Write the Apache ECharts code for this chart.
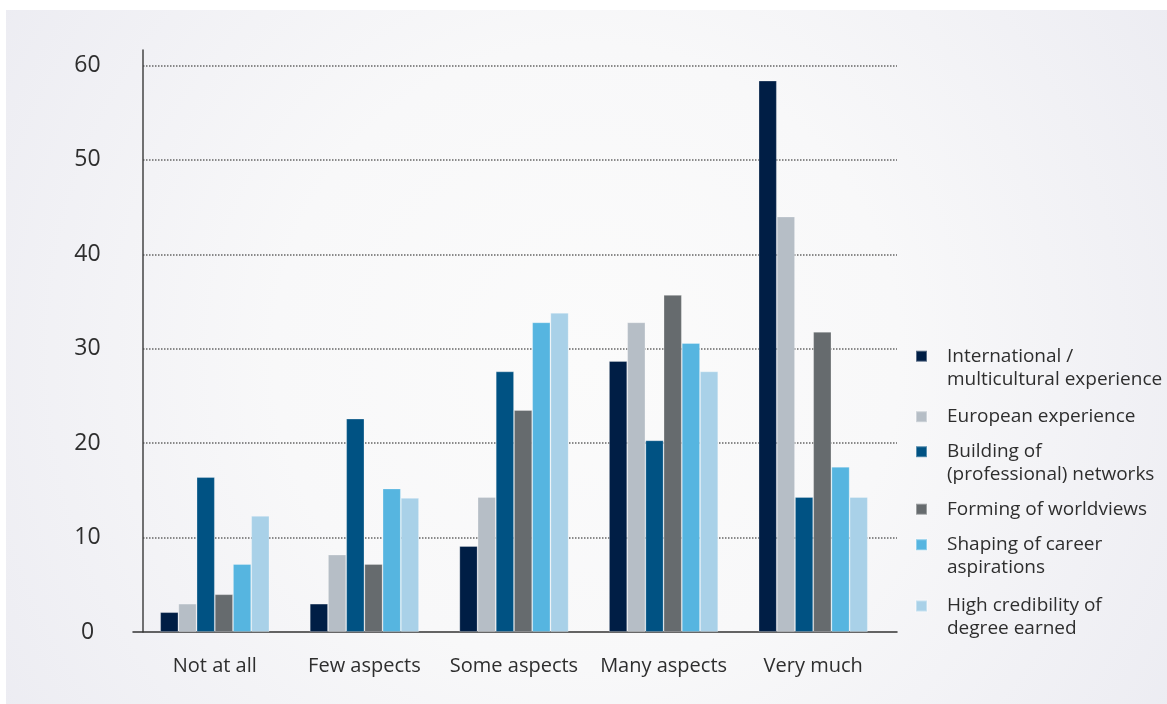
<!DOCTYPE html>
<html>
<head>
<meta charset="utf-8">
<script src="https://cdn.jsdelivr.net/npm/echarts@6/dist/echarts.min.js"></script>
<style>
  html, body { margin: 0; padding: 0; background: #ffffff; }
  #chart { width: 1167px; height: 704px; }
</style>
</head>
<body>
<div id="chart"></div>
<script>
// Survey answers per category (percent of respondents)
const categories = ['Not at all', 'Few aspects', 'Some aspects', 'Many aspects', 'Very much'];

const international = [2.1, 3.0, 9.1, 28.7, 58.4];
const european      = [3.0, 8.2, 14.3, 32.8, 44.0];
const networks      = [16.4, 22.6, 27.6, 20.3, 14.3];
const worldviews    = [4.0, 7.2, 23.5, 35.7, 31.8];
const career        = [7.2, 15.2, 32.8, 30.6, 17.5];
const credibility   = [12.3, 14.2, 33.8, 27.6, 14.3];

const seriesNames = [
  'International /\nmulticultural experience',
  'European experience',
  'Building of\n(professional) networks',
  'Forming of worldviews',
  'Shaping of career\naspirations',
  'High credibility of\ndegree earned'
];

const yTickValues = [0, 10, 20, 30, 40, 50, 60];

const palette = ['#001e45', '#b6bec6', '#005283', '#666b6e', '#56b5e0', '#a9d1e8'];
const seriesData = [international, european, networks, worldviews, career, credibility];

const FONT = 'Open Sans';
const TEXT = '#2e2e2e';

// plot frame: value axis reaches a little above the last gridline
const plotTop = 50, plotBottom = 632;
const pxPerUnit = (plotBottom - 65.5) / 60;
const yAxisTop = (plotBottom - plotTop) / pxPerUnit;

const chart = echarts.init(document.getElementById('chart'), null, { renderer: 'canvas' });

// one legend block per series; two-line entries get an empty leading line
// so the swatch lines up with their first line of text
const legendCenters = [356.2, 416.7, 451.7, 509.2, 544.7, 606];
const legends = seriesNames.map((name, i) => {
  const twoLines = name.indexOf('\n') >= 0;
  return {
    data: [{ name: name, icon: 'rect' }],
    orient: 'vertical',
    left: 915,
    top: legendCenters[i] - (twoLines ? 34.5 : 11.5),
    padding: 0,
    itemWidth: 11,
    itemHeight: 11,
    selectedMode: false,
    formatter: n => (twoLines ? '\n' + n : n),
    textStyle: {
      fontFamily: FONT,
      fontSize: 19,
      lineHeight: 23,
      color: TEXT,
      padding: [0, 0, 0, 15]
    }
  };
});

const option = {
  animation: false,
  backgroundColor: '#ffffff',
  graphic: [{
    type: 'rect',
    left: 6, top: 10,
    z: -100,
    silent: true,
    shape: { width: 1161, height: 694 },
    style: {
      fill: new echarts.graphic.RadialGradient(0.5, 0.5, 1.0, [
        { offset: 0, color: '#fbfbfb' },
        { offset: 0.45, color: '#f8f8f9' },
        { offset: 1, color: '#ececf2' }
      ])
    }
  }],
  legend: legends,
  grid: [
    // bars
    { left: 140, top: 65.5, width: 748, height: plotBottom - 65.5, containLabel: false },
    // value axis and dotted gridlines
    { left: 143, top: plotTop, width: 754, height: plotBottom - plotTop, containLabel: false },
    // baseline
    { left: 133, top: plotTop, width: 764, height: plotBottom - plotTop, containLabel: false }
  ],
  xAxis: [
    {
      gridIndex: 0,
      type: 'category',
      data: categories,
      axisLine: { show: false },
      axisTick: { show: false },
      axisLabel: { interval: 0, fontFamily: FONT, fontSize: 20, color: TEXT, margin: 24 }
    },
    { gridIndex: 1, type: 'value', show: false },
    {
      gridIndex: 2, type: 'value',
      axisLine: { show: true, lineStyle: { color: '#333333', width: 1.5 } },
      axisTick: { show: false },
      axisLabel: { show: false },
      splitLine: { show: false }
    }
  ],
  yAxis: [
    { gridIndex: 0, type: 'value', min: 0, max: 60, show: false },
    {
      gridIndex: 1,
      type: 'value',
      min: 0,
      max: yAxisTop,
      interval: 10,
      axisLine: { show: true, lineStyle: { color: '#444444', width: 1.5 } },
      axisTick: { show: false },
      axisLabel: {
        fontFamily: FONT, fontSize: 23, color: TEXT,
        align: 'center', margin: 55.5,
        showMaxLabel: false,
        formatter: v => (yTickValues.indexOf(Math.round(v * 1000) / 1000) >= 0 ? String(v) : '')
      },
      splitLine: {
        show: true,
        showMinLine: false,
        showMaxLine: false,
        lineStyle: { color: '#666666', width: 1.5, type: [1.5, 1.5] }
      }
    },
    { gridIndex: 2, type: 'value', min: 0, max: yAxisTop, show: false }
  ],
  series: seriesNames.map((name, i) => ({
    name: name,
    type: 'bar',
    xAxisIndex: 0,
    yAxisIndex: 0,
    data: seriesData[i],
    barGap: '0%',
    barCategoryGap: '27%',
    itemStyle: {
      color: palette[i],
      borderColor: 'rgba(255,255,255,0.35)',
      borderWidth: 0.8
    },
    emphasis: { disabled: true }
  }))
};

chart.setOption(option);
</script>
</body>
</html>
